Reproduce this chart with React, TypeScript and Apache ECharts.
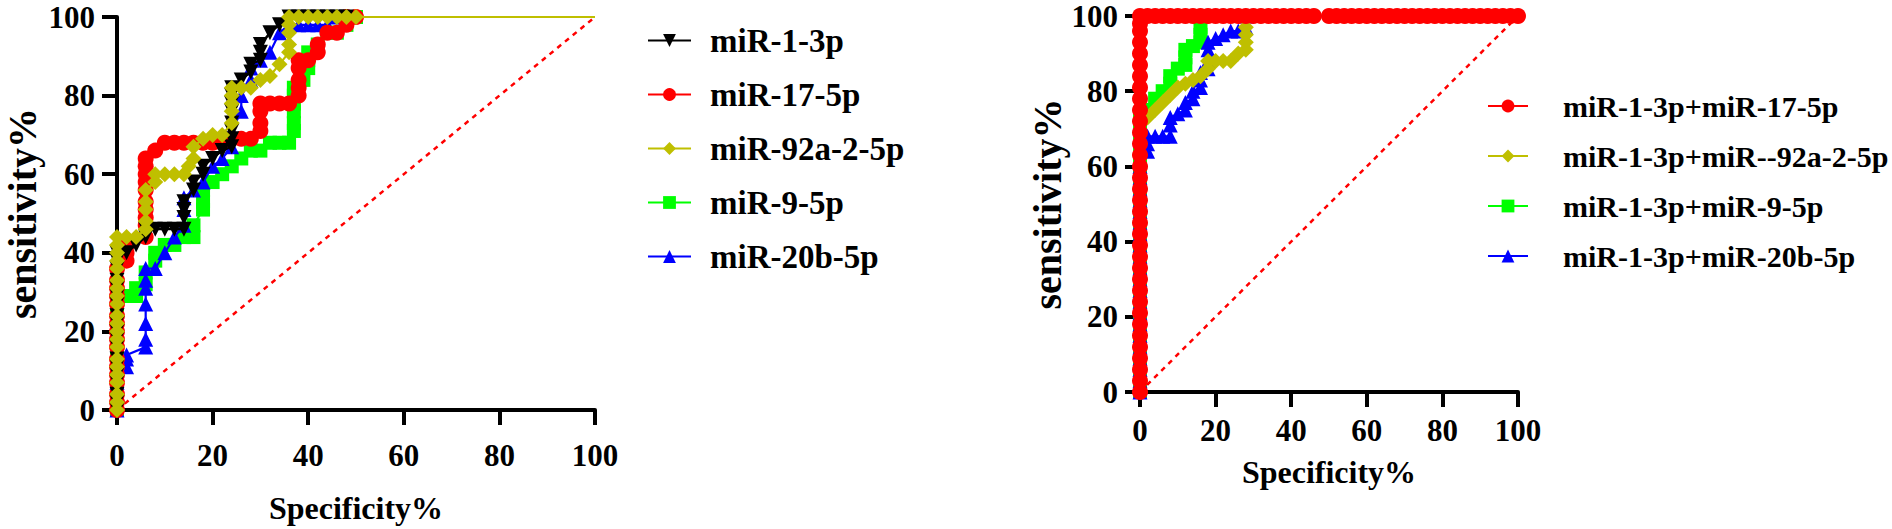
import React, { useEffect, useRef } from "react";
import * as echarts from "echarts";

// ---------- Data: left panel (single markers) ----------
const leftNames = ["miR-1-3p", "miR-17-5p", "miR-92a-2-5p", "miR-9-5p", "miR-20b-5p"];

const miR1_3p = [
  [0, 0], [0, 2], [0, 4], [0, 7], [0, 9], [0, 11], [0, 13], [0, 16], [0, 18], [0, 20], [0, 22], [0, 24], [0, 27],
  [0, 29], [0, 31], [0, 33], [0, 36], [0, 38], [0, 40], [2, 40], [4, 42], [6, 44], [6, 46], [8, 46], [10, 46],
  [12, 46], [14, 46], [14, 49], [14, 51], [14, 53], [16, 56], [16, 58], [18, 60], [18, 62], [20, 64], [22, 66],
  [24, 67], [24, 69], [24, 71], [24, 73], [24, 76], [24, 78], [24, 80], [24, 82], [26, 84], [28, 86], [28, 88],
  [30, 89], [30, 91], [30, 93], [32, 96], [34, 98], [36, 100], [38, 100], [40, 100], [42, 100], [44, 100],
  [46, 100], [48, 100], [100, 100],
];

const miR17_5p = [
  [0, 0], [0, 2], [0, 4], [0, 7], [0, 9], [0, 11], [0, 13], [0, 16], [0, 18], [0, 20], [0, 22], [0, 24], [0, 27],
  [0, 29], [0, 31], [0, 33], [0, 36], [2, 38], [2, 40], [2, 42], [6, 44], [6, 47], [6, 49], [6, 51], [6, 53],
  [6, 56], [6, 58], [6, 60], [6, 62], [6, 64], [8, 66], [10, 68], [12, 68], [14, 68], [16, 68], [18, 68], [20, 68],
  [22, 68], [24, 69], [26, 69], [28, 69], [30, 71], [30, 73], [30, 76], [30, 78], [32, 78], [34, 78], [36, 78],
  [38, 80], [38, 82], [38, 84], [38, 87], [38, 89], [40, 89], [42, 91], [42, 93], [44, 96], [46, 96], [48, 98],
  [48, 100], [50, 100], [100, 100],
];

const miR92a_2_5p = [
  [0, 0], [0, 2], [0, 4], [0, 7], [0, 9], [0, 11], [0, 13], [0, 16], [0, 18], [0, 20], [0, 22], [0, 24], [0, 27],
  [0, 29], [0, 31], [0, 33], [0, 36], [0, 38], [0, 40], [0, 42], [0, 44], [2, 44], [4, 44], [6, 46], [6, 48],
  [6, 51], [6, 53], [6, 56], [8, 58], [8, 60], [10, 60], [12, 60], [14, 60], [15, 62], [16, 64], [16, 67],
  [18, 69], [20, 70], [22, 70], [24, 73], [24, 76], [24, 78], [24, 80], [24, 82], [26, 82], [28, 82], [30, 84],
  [32, 85], [34, 88], [36, 91], [36, 93], [36, 96], [36, 98], [36, 100], [38, 100], [40, 100], [42, 100],
  [44, 100], [46, 100], [48, 100], [50, 100], [100, 100],
];

const miR9_5p = [
  [0, 0], [0, 2], [0, 4], [0, 7], [0, 9], [0, 11], [0, 13], [0, 16], [0, 18], [0, 20], [0, 22], [0, 24], [0, 27],
  [2, 29], [4, 29], [4, 31], [6, 32], [6, 35], [8, 38], [8, 40], [10, 42], [12, 42], [14, 44], [16, 44],
  [16, 47], [18, 51], [18, 53], [18, 56], [20, 58], [22, 60], [24, 62], [26, 64], [28, 66], [30, 66], [32, 68],
  [34, 68], [36, 68], [37, 71], [37, 73], [37, 76], [37, 78], [37, 80], [37, 82], [39, 84], [40, 87], [40, 89],
  [40, 91], [42, 93], [44, 96], [46, 96], [48, 98], [50, 100], [100, 100],
];

const miR20b_5p = [
  [0, 0], [0, 2], [0, 4], [0, 7], [0, 9], [2, 11], [2, 13], [2, 14], [6, 16], [6, 18], [6, 22], [6, 27], [6, 31],
  [6, 33], [6, 36], [8, 36], [10, 40], [12, 44], [14, 47], [14, 51], [14, 54], [16, 56], [18, 58], [20, 62],
  [22, 64], [24, 67], [24, 71], [26, 76], [26, 80], [28, 84], [28, 87], [30, 89], [32, 91], [34, 96], [36, 98],
  [38, 98], [40, 98], [42, 98], [44, 98], [46, 100], [100, 100],
];

// ---------- Data: right panel (combinations) ----------
const rightNames = [
  "miR-1-3p+miR-17-5p",
  "miR-1-3p+miR--92a-2-5p",
  "miR-1-3p+miR-9-5p",
  "miR-1-3p+miR-20b-5p",
];

const combo17 = [
  [0, 0], [0, 3], [0, 6], [0, 9], [0, 12], [0, 15], [0, 18], [0, 21], [0, 24], [0, 27], [0, 30], [0, 33], [0, 36],
  [0, 39], [0, 42], [0, 45], [0, 48], [0, 51], [0, 54], [0, 57], [0, 60], [0, 63], [0, 66], [0, 69], [0, 72],
  [0, 75], [0, 78], [0, 81], [0, 84], [0, 87], [0, 90], [0, 93], [0, 96], [0, 98], [0, 100], [2, 100], [4, 100],
  [6, 100], [8, 100], [10, 100], [12, 100], [14, 100], [16, 100], [18, 100], [20, 100], [22, 100], [24, 100],
  [26, 100], [28, 100], [30, 100], [32, 100], [34, 100], [36, 100], [38, 100], [40, 100], [42, 100], [44, 100],
  [46, 100], [50, 100], [52, 100], [54, 100], [56, 100], [58, 100], [60, 100], [62, 100], [64, 100], [66, 100],
  [68, 100], [70, 100], [72, 100], [74, 100], [76, 100], [78, 100], [80, 100], [82, 100], [84, 100], [86, 100],
  [88, 100], [90, 100], [92, 100], [94, 100], [96, 100], [98, 100], [100, 100],
];

const combo92a = [
  [0, 0], [0, 3], [0, 6], [0, 9], [0, 12], [0, 15], [0, 18], [0, 21], [0, 24], [0, 27], [0, 30], [0, 33], [0, 36],
  [0, 39], [0, 42], [0, 45], [0, 48], [0, 51], [0, 54], [0, 57], [0, 60], [0, 63], [0, 66], [0, 69], [0, 72],
  [2, 73], [4, 75], [6, 77], [8, 79], [10, 81], [12, 82], [14, 83], [16, 84], [18, 86], [18, 88], [20, 88],
  [22, 88], [24, 88], [26, 90], [28, 91], [28, 93], [28, 95], [28, 97], [28, 100], [100, 100],
];

const combo9 = [
  [0, 0], [0, 3], [0, 6], [0, 9], [0, 12], [0, 15], [0, 18], [0, 21], [0, 24], [0, 27], [0, 30], [0, 33], [0, 36],
  [0, 39], [0, 42], [0, 45], [0, 48], [0, 51], [0, 54], [0, 57], [0, 60], [0, 63], [0, 66], [0, 69], [0, 72],
  [0, 74], [2, 75], [4, 78], [6, 80], [8, 82], [8, 84], [10, 86], [12, 87], [12, 89], [12, 91], [14, 92],
  [16, 93], [16, 95], [16, 97], [18, 100], [100, 100],
];

const combo20b = [
  [0, 0], [0, 3], [0, 6], [0, 9], [0, 12], [0, 15], [0, 18], [0, 21], [0, 24], [0, 27], [0, 30], [0, 33], [0, 36],
  [0, 39], [0, 42], [0, 45], [0, 48], [0, 51], [0, 54], [0, 57], [0, 60], [0, 62], [2, 64], [2, 66], [2, 68],
  [4, 68], [6, 68], [8, 68], [8, 71], [8, 73], [10, 74], [12, 75], [12, 77], [14, 78], [14, 80], [16, 81],
  [16, 83], [16, 85], [18, 86], [18, 88], [18, 91], [18, 93], [20, 94], [22, 95], [24, 96], [26, 96], [28, 97],
  [28, 100], [100, 100],
];

const diagonal = [
  [0, 0],
  [100, 100],
];

const ticks = [0, 20, 40, 60, 80, 100];

const FONT = '"Liberation Serif", "Times New Roman", serif';

function mkSeries(
  name: string,
  data: number[][],
  color: string,
  symbol: string,
  size: number,
  idx: number,
  rotate: number,
  z: number,
  hideLast: boolean
) {
  const pts = data.map((p, i) =>
    hideLast && i === data.length - 1 ? { value: p, symbol: "none" } : p
  );
  return {
    name,
    type: "line",
    xAxisIndex: idx,
    yAxisIndex: idx,
    data: pts,
    symbol,
    symbolSize: size,
    symbolRotate: rotate,
    showAllSymbol: true,
    clip: false,
    z,
    lineStyle: { color, width: 2.2 },
    itemStyle: { color, borderWidth: 0 },
    emphasis: { disabled: true },
  };
}

const labelStyle = { fontFamily: FONT, fontWeight: "bold", fontSize: 31, color: "#000", lineHeight: 26 };

function axisX(idx: number, labelMargin: number, nameGap: number) {
  return {
    gridIndex: idx,
    type: "value",
    min: ticks[0],
    max: ticks[ticks.length - 1],
    interval: 20,
    name: "Specificity%",
    nameLocation: "middle",
    nameGap,
    nameTextStyle: { fontFamily: FONT, fontWeight: "bold", fontSize: 32, color: "#000" },
    axisLine: { show: true, onZero: false, lineStyle: { color: "#000", width: 4 } },
    axisTick: { show: true, length: 15, lineStyle: { color: "#000", width: 4 } },
    axisLabel: { margin: labelMargin, ...labelStyle },
    splitLine: { show: false },
  };
}

function axisY(idx: number, nameGap: number) {
  return {
    gridIndex: idx,
    type: "value",
    min: ticks[0],
    max: ticks[ticks.length - 1],
    interval: 20,
    name: "sensitivity%",
    nameLocation: "middle",
    nameRotate: 90,
    nameGap,
    nameTextStyle: { fontFamily: FONT, fontWeight: "bold", fontSize: 40, color: "#000" },
    axisLine: { show: true, onZero: false, lineStyle: { color: "#000", width: 4 } },
    axisTick: { show: true, length: 15, lineStyle: { color: "#000", width: 4 } },
    axisLabel: { margin: 22, ...labelStyle },
    splitLine: { show: false },
  };
}

export default function App() {
  const ref = useRef<HTMLDivElement>(null);

  useEffect(() => {
    if (!ref.current) return;
    const chart = echarts.init(ref.current, null, { renderer: "svg" });
    const diag = (idx: number) => ({
      name: "ref" + idx,
      type: "line",
      xAxisIndex: idx,
      yAxisIndex: idx,
      data: diagonal,
      symbol: "none",
      z: 1,
      lineStyle: { color: "#ff0000", width: 2.5, type: [5, 5] },
      emphasis: { disabled: true },
    });
    chart.setOption({
      animation: false,
      backgroundColor: "#ffffff",
      grid: [
        { left: 117, top: 17, width: 478, height: 399 },
        { left: 1140, top: 16, width: 378, height: 376 },
      ],
      xAxis: [axisX(0, 32, 82), axisX(1, 25, 64)],
      yAxis: [axisY(0, 75), axisY(1, 64)],
      legend: [
        {
          data: leftNames,
          orient: "vertical",
          left: 642,
          top: 19,
          itemWidth: 43,
          itemHeight: 16,
          itemGap: 21,
          selectedMode: false,
          textStyle: {
            fontFamily: FONT,
            fontWeight: "bold",
            fontSize: 33,
            lineHeight: 32,
            color: "#000",
            padding: [0, 0, 0, 14],
          },
        },
        {
          data: rightNames,
          orient: "vertical",
          left: 1482,
          top: 86,
          itemWidth: 40,
          itemHeight: 16,
          itemGap: 20,
          selectedMode: false,
          textStyle: {
            fontFamily: FONT,
            fontWeight: "bold",
            fontSize: 30,
            lineHeight: 30,
            color: "#000",
            padding: [0, 0, 0, 30],
          },
        },
      ],
      series: [
        diag(0),
        mkSeries("miR-9-5p", miR9_5p, "#00ff00", "rect", 14, 0, 0, 3, true),
        mkSeries("miR-20b-5p", miR20b_5p, "#0000ff", "triangle", 15, 0, 0, 4, true),
        mkSeries("miR-17-5p", miR17_5p, "#ff0000", "circle", 16, 0, 0, 5, true),
        mkSeries("miR-1-3p", miR1_3p, "#000000", "triangle", 15, 0, 180, 6, true),
        mkSeries("miR-92a-2-5p", miR92a_2_5p, "#bfbf00", "diamond", 16, 0, 0, 7, true),
        diag(1),
        mkSeries("miR-1-3p+miR-9-5p", combo9, "#00ff00", "rect", 14, 1, 0, 3, true),
        mkSeries("miR-1-3p+miR-20b-5p", combo20b, "#0000ff", "triangle", 15, 1, 0, 4, true),
        mkSeries("miR-1-3p+miR--92a-2-5p", combo92a, "#bfbf00", "diamond", 16, 1, 0, 5, true),
        mkSeries("miR-1-3p+miR-17-5p", combo17, "#ff0000", "circle", 16, 1, 0, 6, false),
      ],
    });
    return () => chart.dispose();
  }, []);

  return (
    <div
      ref={ref}
      style={{ position: "fixed", left: 0, top: 0, width: 1892, height: 529, background: "#fff" }}
    />
  );
}
